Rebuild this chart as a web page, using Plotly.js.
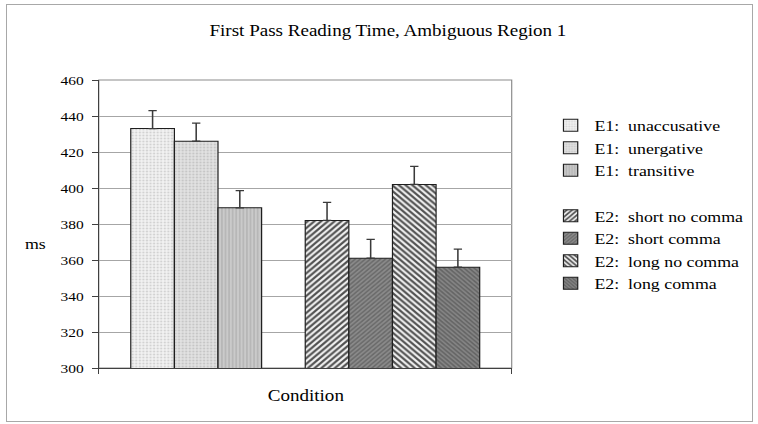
<!DOCTYPE html>
<html>
<head>
<meta charset="utf-8">
<script src="https://cdn.plot.ly/plotly-3.0.1.min.js"></script>
<style>
  html, body { margin: 0; padding: 0; background: #fff; overflow: hidden; }
  #wrap { position: relative; width: 758px; height: 424px; overflow: hidden; }
  /* the reference picture is horizontally stretched; reproduce that stretch */
  #chart { position: absolute; left: 0; top: 0; width: 680px; height: 424px;
           transform: scaleX(1.19); transform-origin: 0 0; }
  #frame { position: absolute; left: 6px; top: 4px; width: 745px; height: 416px;
           border: 1px solid #a8a8a8; pointer-events: none; }
</style>
</head>
<body>
<div id="wrap">
  <div id="chart"></div>
  <div id="frame"></div>
</div>
<script>
// ---- data ----
const category = [' '];
const seriesNames = [
  'E1:\u00a0\u00a0unaccusative',
  'E1:\u00a0\u00a0unergative',
  'E1:\u00a0\u00a0transitive',
  null,                         // blank spacer series
  'E2:\u00a0\u00a0short no comma',
  'E2:\u00a0\u00a0short comma',
  'E2:\u00a0\u00a0long no comma',
  'E2:\u00a0\u00a0long comma'
];
const seriesGroups = ['E1', 'E1', 'E1', null, 'E2', 'E2', 'E2', 'E2'];
const meanRT = [433, 426, 389, null, 382, 361, 402, 356];
const errorRT = [10, 10, 9.5, null, 10, 10.5, 10, 10];
const yTicks = [300, 320, 340, 360, 380, 400, 420, 440, 460];

// ---- styles (per series) ----
const styles = [
  {color: '#efefef', pattern: {shape: '.', fgcolor: '#d2d2d2', bgcolor: '#f2f2f2', size: 3, solidity: 0.35}},
  {color: '#dddddd', pattern: {shape: '.', fgcolor: '#c6c6c6', bgcolor: '#e2e2e2', size: 3, solidity: 0.35}},
  {color: '#c6c6c6', pattern: {shape: '|', fgcolor: '#b2b2b2', bgcolor: '#cacaca', size: 3, solidity: 0.4}},
  null,
  {color: '#a8a8a8', pattern: {shape: '/', fgcolor: '#505050', bgcolor: '#f2f2f2', size: 4, solidity: 0.5}},
  {color: '#7e7e7e', pattern: {shape: '/', fgcolor: '#6a6a6a', bgcolor: '#8c8c8c', size: 3, solidity: 0.5}},
  {color: '#a8a8a8', pattern: {shape: '\\', fgcolor: '#505050', bgcolor: '#f2f2f2', size: 4, solidity: 0.5}},
  {color: '#777777', pattern: {shape: '\\', fgcolor: '#646464', bgcolor: '#868686', size: 3, solidity: 0.5}}
];

const serif = '"Liberation Serif", "Times New Roman", Times, serif';

const traces = seriesNames.map((name, i) => {
  if (name === null) {
    return {type: 'bar', x: category, y: [meanRT[i]], name: ' ', showlegend: false,
            hoverinfo: 'skip', marker: {color: 'rgba(0,0,0,0)'}};
  }
  const st = styles[i];
  return {
    type: 'bar',
    x: category,
    y: [meanRT[i]],
    name: name,
    legendgroup: seriesGroups[i],
    marker: {
      color: st.color,
      pattern: Object.assign({fillmode: 'replace'}, st.pattern),
      line: {color: '#1e1e1e', width: 1}
    },
    error_y: {
      type: 'data', symmetric: false,
      array: [errorRT[i]], arrayminus: [0],
      color: '#3a3a3a', thickness: 1.3, width: 3.5
    }
  };
});

const W = 680;
const layout = {
  width: W, height: 424,
  margin: {l: 83.2, r: W - 430.3, t: 80, b: 56, autoexpand: false},
  paper_bgcolor: 'rgba(0,0,0,0)', plot_bgcolor: '#ffffff',
  font: {family: serif, color: '#000000', size: 14},
  barmode: 'group',
  bargap: 0.155,
  bargroupgap: 0,
  title: {
    text: 'First Pass Reading Time, Ambiguous Region 1',
    font: {family: serif, size: 16, color: '#000'},
    xref: 'container', x: 326 / W, xanchor: 'center',
    yref: 'container', y: 0.929, yanchor: 'middle'
  },
  xaxis: {
    type: 'category',
    showticklabels: false,
    ticks: 'outside', ticklen: 5, tickcolor: '#404040', tickson: 'boundaries',
    showline: true, linecolor: '#404040', linewidth: 1,
    showgrid: false, zeroline: false, fixedrange: true
  },
  yaxis: {
    range: [300, 460],
    tickmode: 'array', tickvals: yTicks, ticktext: yTicks.map(String),
    ticks: 'outside', ticklen: 5, tickcolor: '#404040',
    ticklabelstandoff: 4,
    tickfont: {family: serif, size: 13, color: '#000'},
    showline: true, linecolor: '#404040', linewidth: 1,
    showgrid: true, gridcolor: '#a6a6a6', gridwidth: 1,
    zeroline: false, fixedrange: true
  },
  shapes: [
    {type: 'rect', xref: 'paper', yref: 'paper', x0: 0, x1: 1, y0: 0, y1: 1,
     line: {color: '#8c8c8c', width: 1}, fillcolor: 'rgba(0,0,0,0)', layer: 'below'}
  ],
  legend: {
    x: 1.085, xanchor: 'left',
    y: 0.899, yanchor: 'top',
    font: {family: serif, size: 15, color: '#000'},
    tracegroupgap: 23,
    traceorder: 'grouped',
    bgcolor: 'rgba(0,0,0,0)', borderwidth: 0
  },
  annotations: [
    {text: 'ms', xref: 'paper', yref: 'paper', x: -0.152, y: 0.431,
     xanchor: 'center', yanchor: 'middle', showarrow: false,
     font: {family: serif, size: 15, color: '#000'}},
    {text: 'Condition', xref: 'paper', yref: 'paper', x: 0.5, y: -0.097,
     xanchor: 'center', yanchor: 'middle', showarrow: false,
     font: {family: serif, size: 16, color: '#000'}}
  ],
  showlegend: true
};

Plotly.newPlot('chart', traces, layout, {displayModeBar: false, staticPlot: true});
</script>
</body>
</html>
